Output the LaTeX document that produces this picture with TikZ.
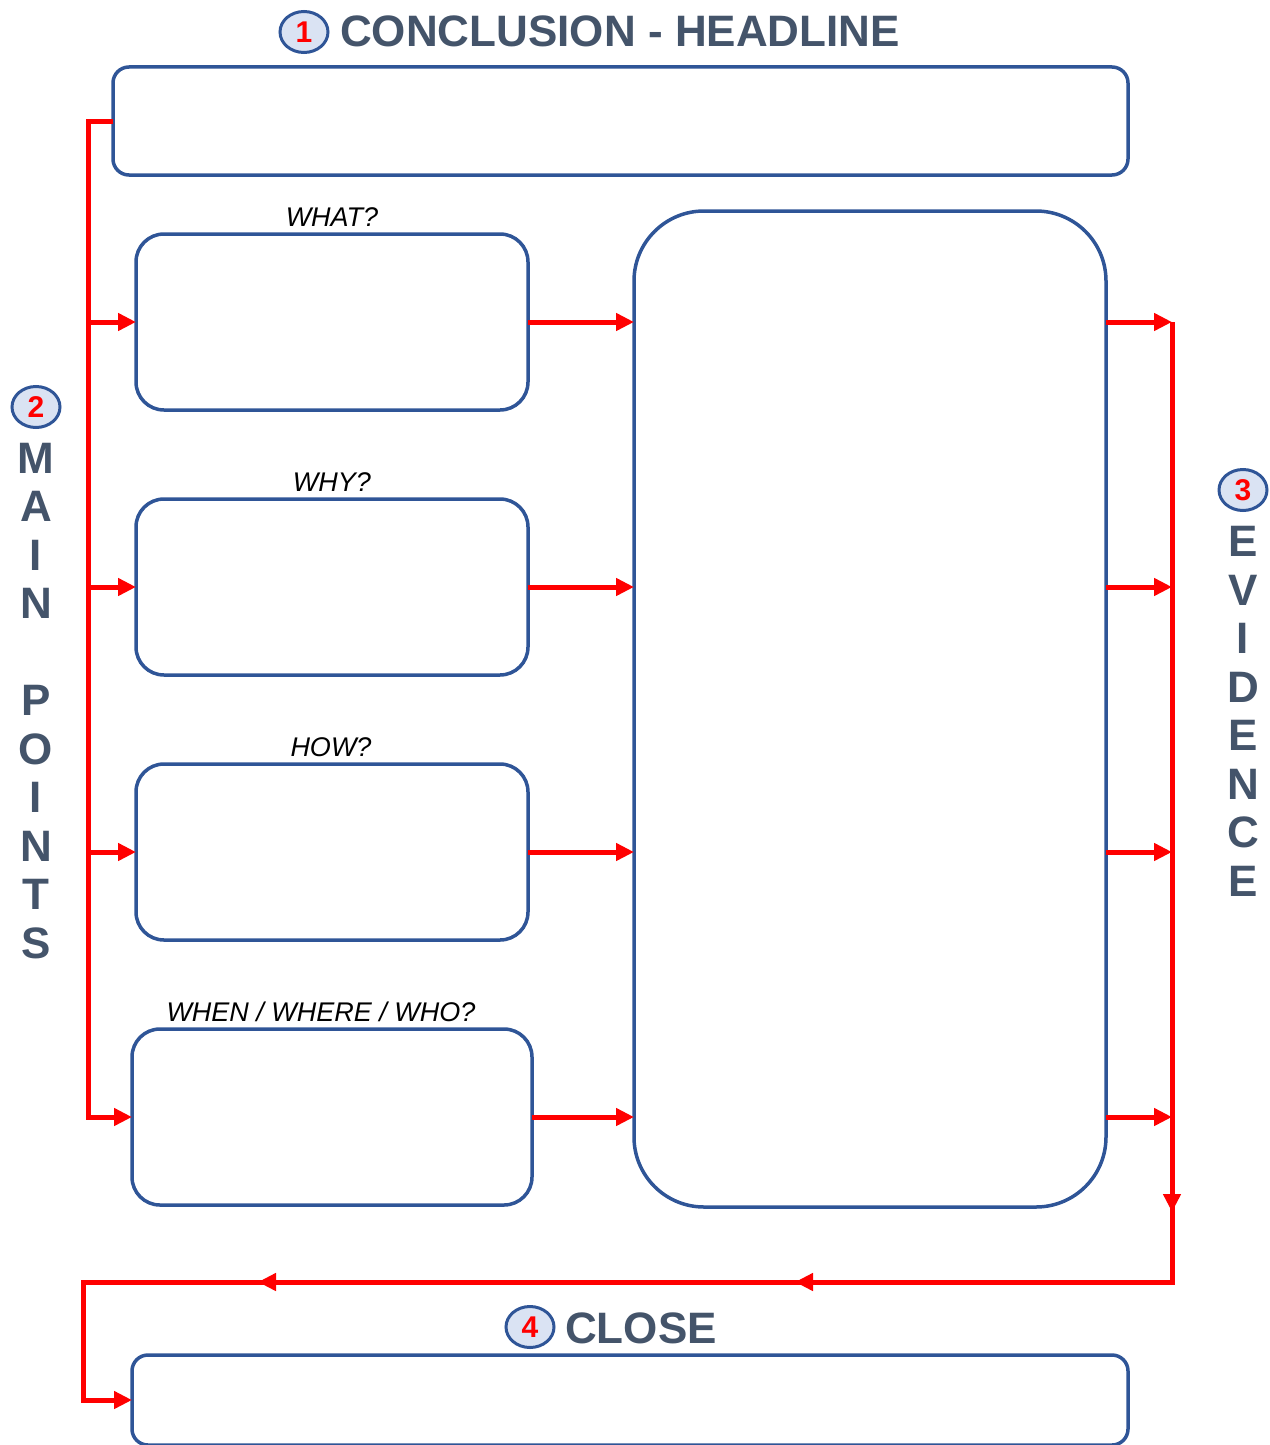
\documentclass[tikz,border=0pt]{standalone}
\usepackage{fontspec}
\setmainfont{Liberation Sans}
\usepackage{tikz}
\usetikzlibrary{positioning,arrows.meta,shapes.geometric,decorations.markings}
\definecolor{boxblue}{HTML}{2F5597}
\definecolor{numfill}{HTML}{DAE3F3}
\definecolor{headgray}{HTML}{44546A}

\begin{document}
\begin{tikzpicture}[x=1pt,y=-1pt,
  box/.style={draw=boxblue,line width=3.5pt,rounded corners=28pt,outer sep=0pt,minimum width=392pt,minimum height=176pt},
  wide/.style={box,rounded corners=16pt,minimum width=1015pt,minimum height=108pt},
  num/.style={ellipse,draw=boxblue,line width=3pt,fill=numfill,minimum width=48pt,minimum height=41pt,inner sep=0pt,text=red,font=\fontsize{30}{32}\selectfont\bfseries},
  head/.style={text=headgray,font=\fontsize{44}{48}\selectfont\bfseries,inner sep=0pt},
  vtext/.style={head,align=center,font=\fontsize{44}{48.5}\selectfont\bfseries},
  qlabel/.style={font=\fontsize{27}{29}\selectfont\itshape,inner sep=0pt},
  redln/.style={red,line width=5pt},
  redarr/.style={redln,-{Triangle[length=18pt,width=17pt]}}]
  \useasboundingbox (0,0) rectangle (1269,1445);

  % boxes
  \node[wide] (headline) at (620.5,121) {};
  \node[box] (what) at (332,322) {};
  \node[box,below=89pt of what] (why) {};
  \node[box,below=89pt of why] (how) {};
  \node[box,below=89pt of how,minimum width=400pt] (when) {};
  \node[box,minimum width=472pt,minimum height=996pt,rounded corners=70pt] (evid) at (870,709) {};
  \node[wide,minimum width=996pt,minimum height=90pt] (close) at (630,1400) {};

  % questions
  \node[qlabel,above=8pt of what,anchor=base] (whatlbl) {WHAT?};
  \node[qlabel,above=8pt of why,anchor=base] (whylbl) {WHY?};
  \node[qlabel,above=8pt of how,anchor=base,xshift=-1pt] (howlbl) {HOW?};
  \node[qlabel,above=8pt of when,anchor=base,xshift=-11pt] (whenlbl) {WHEN / WHERE / WHO?};

  % headings
  \node[num] (n1) at (304,32) {1};
  \node[head,anchor=base west] (conc) at (340,47) {CONCLUSION - HEADLINE};
  \node[num] (n2) at (36,407) {2};
  \node[vtext] (mainpts) at (36,701) {M\\A\\I\\N\\[48.5pt]P\\O\\I\\N\\T\\S};
  \node[num] (n3) at (1243,490) {3};
  \node[vtext] (evtext) at (1243,711.5) {E\\V\\I\\D\\E\\N\\C\\E};
  \node[num] (n4) at (530,1327) {4};
  \node[head,anchor=base west] (closelbl) at (565,1343) {CLOSE};

  % red flow
  \coordinate (lbus) at (88,1117);
  \coordinate (rbus) at (1172,322);
  \coordinate (rcorner) at (1172,1282);
  \coordinate (lcorner) at (83,1282);
  \draw[redarr] (headline.west) -| (lbus) -- (when.west);
  \foreach \b in {what,why,how}
    \draw[redarr] (lbus |- \b.west) -- (\b.west);
  \foreach \b in {what,why,how,when} {
    \draw[redarr] (\b.east) -- (\b.east -| evid.west);
    \draw[redarr] (\b.east -| evid.east) -- (\b.east -| rbus);
  }
  \draw[redarr,postaction=decorate,decoration={markings,
      mark=at position 890pt with {\arrow{Triangle[length=18pt,width=17pt]}},
      mark=at position 1337pt with {\arrow{Triangle[length=18pt,width=17pt]}},
      mark=at position 1874pt with {\arrow{Triangle[length=18pt,width=17pt]}}}]
    (rbus) -- (rcorner) -- (lcorner) |- (close.west);
\end{tikzpicture}
\end{document}
